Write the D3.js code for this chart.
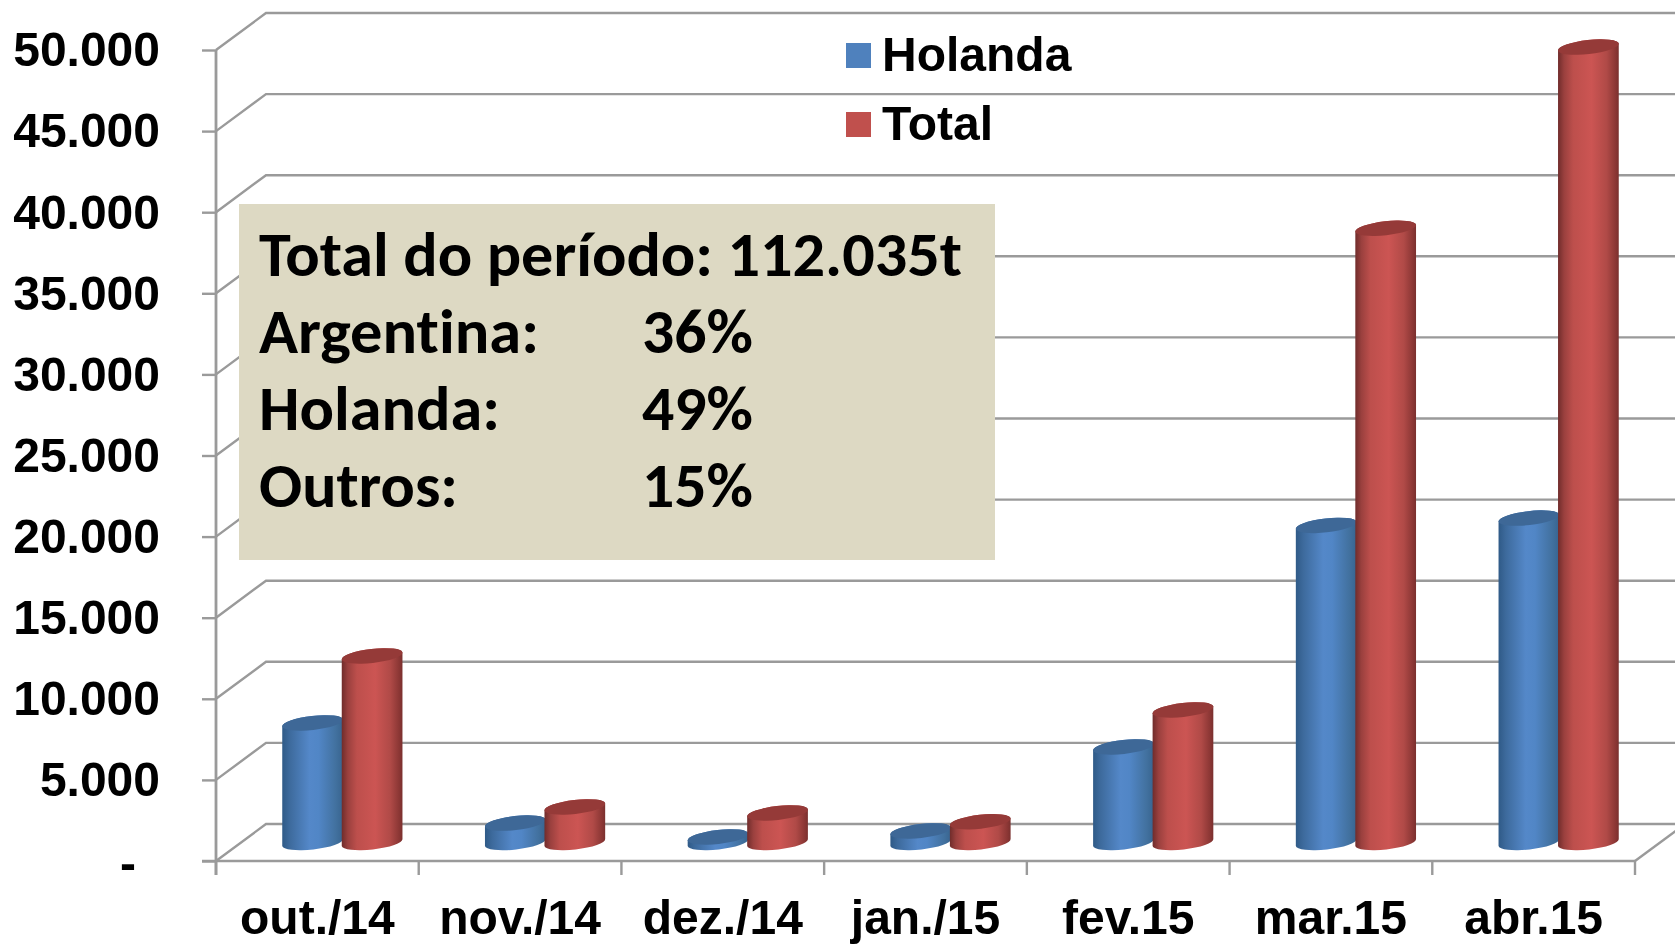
<!DOCTYPE html>
<html lang="pt">
<head>
<meta charset="utf-8">
<title>Holanda e Total</title>
<script src="https://cdn.jsdelivr.net/npm/d3@7/dist/d3.min.js"></script>
<style>
  html, body { margin: 0; padding: 0; background: #fff; overflow: hidden; }
  svg { display: block; filter: blur(0.55px); }
  .arial { font-family: "Liberation Sans", Arial, sans-serif; font-weight: 700; font-size: 48px; fill: #000; }
  .note { font-family: Carlito, Lato, sans-serif; font-weight: 700; font-size: 62px; fill: #000; font-variant-ligatures: none; }
</style>
</head>
<body>
<svg id="chart" width="1675" height="944"></svg>
<script>
// ---- data ----
const categories = ["out./14", "nov./14", "dez./14", "jan./15", "fev.15", "mar.15", "abr.15"];
const holanda = [7370, 1200, 340, 710, 5890, 19550, 20000];
const total = [11500, 2190, 1820, 1280, 8170, 37870, 49040];
const yTicks = [0, 5000, 10000, 15000, 20000, 25000, 30000, 35000, 40000, 45000, 50000];
const seriesNames = ["Holanda", "Total"];
const noteLines = ["Total do período: 112.035t", "Argentina:", "Holanda:", "Outros:"];
const notePercents = ["36%", "49%", "15%"];

// ---- layout ----
const plotL = 216, plotR = 1635, plotT = 50, plotB = 861;
const depthX = 50, depthY = -37;
const gridColor = "#9a9a9a";

const svg = d3.select("#chart");
const x = d3.scaleBand().domain(categories).range([plotL, plotR]);
const y = d3.scaleLinear().domain([0, 50000]).range([plotB, plotT]);
const sub = d3.scaleBand().domain(seriesNames).range([-59.5, 59.5]);
const fmt = d3.formatLocale({ decimal: ",", thousands: ".", grouping: [3], currency: ["", ""] }).format(",d");

// ---- gradients ----
const defs = svg.append("defs");
const palettes = {
  Holanda: { stops: [[0, "#2f5a87"], [0.12, "#3d6a9c"], [0.45, "#5488c9"], [0.6, "#5186c6"], [0.88, "#42719f"], [1, "#38648f"]], top: "#3e6897", key: "#4f81bd" },
  Total: { stops: [[0, "#702c2b"], [0.1, "#9a403e"], [0.25, "#bd4f4c"], [0.55, "#cc5553"], [0.8, "#b04a47"], [0.95, "#8a3634"], [1, "#7a302e"]], top: "#953a38", key: "#c0504d" }
};
seriesNames.forEach(s => {
  const g = defs.append("linearGradient").attr("id", "grad" + s)
    .attr("x1", 0).attr("x2", 1).attr("y1", 0).attr("y2", 0);
  palettes[s].stops.forEach(st => g.append("stop").attr("offset", st[0]).attr("stop-color", st[1]));
});

// ---- gridlines on wall and side ----
const grid = svg.append("g").attr("fill", "none").attr("stroke", gridColor).attr("stroke-width", 2.4);
grid.selectAll("path.wall").data(yTicks).join("path").attr("class", "wall")
  .attr("d", v => `M${plotL},${y(v)}L${plotL + depthX},${y(v) + depthY}L${plotR + depthX},${y(v) + depthY}`);
grid.append("path").attr("d", `M${plotR},${plotB}L${plotR + depthX},${plotB + depthY}`);

// ---- axes ----
const yAxis = svg.append("g").attr("transform", `translate(${plotL},0)`)
  .call(d3.axisLeft(y).tickValues(yTicks).tickSize(14).tickPadding(42)
    .tickFormat(v => v === 0 ? "-" : fmt(v)));
yAxis.select(".domain").remove();
yAxis.selectAll(".tick line").attr("stroke", gridColor).attr("stroke-width", 2.4);
yAxis.selectAll(".tick text").attr("class", "arial").attr("dy", "0.33em")
  .attr("dx", v => v === 0 ? -24 : 0)
  .attr("y", v => v === 0 ? 3 : 0);

const xAxis = svg.append("g").attr("transform", `translate(0,${plotB})`)
  .call(d3.axisBottom(x).tickSize(0).tickPadding(38.5));
xAxis.select(".domain").remove();
xAxis.selectAll(".tick line").remove();
xAxis.selectAll(".tick text").attr("class", "arial").attr("dy", "0.71em");
const xTicks = categories.map(c => x(c)).concat([plotR]);
svg.append("g").selectAll("line").data(xTicks).join("line")
  .attr("x1", d => d).attr("x2", d => d).attr("y1", plotB).attr("y2", plotB + 14)
  .attr("stroke", gridColor).attr("stroke-width", 2.4);
svg.append("line").attr("x1", plotL - 14).attr("x2", plotR).attr("y1", plotB).attr("y2", plotB)
  .attr("stroke", gridColor).attr("stroke-width", 2.4);
svg.append("line").attr("x1", plotL).attr("x2", plotL).attr("y1", plotT).attr("y2", plotB + 14)
  .attr("stroke", gridColor).attr("stroke-width", 2.8);

// ---- cylinders ----
const baseY = y(0) + depthY / 2;
const bw = sub.bandwidth();
const rx = bw / 2 + 0.8, ry = 7, tilt = -6.5;
const tipY = rx * Math.sin(-tilt * Math.PI / 180);
const tipX = rx * Math.cos(tilt * Math.PI / 180);
const cx = (cat, s) => x(cat) + x.bandwidth() / 2 + depthX / 2 + sub(s) + bw / 2;
const topY = v => baseY - (y(0) - y(v));

const rows = categories.flatMap((c, i) => [
  { c, s: "Holanda", v: holanda[i] },
  { c, s: "Total", v: total[i] }
]);
const bars = svg.append("g").selectAll("g").data(rows).join("g");
bars.append("path")
  .attr("fill", d => `url(#grad${d.s})`)
  .attr("d", d => {
    const X = cx(d.c, d.s), T = topY(d.v);
    return `M${X - tipX},${T + tipY}L${X - tipX},${baseY + tipY}` +
      `A${rx},${ry} ${tilt} 0 0 ${X + tipX},${baseY - tipY}` +
      `L${X + tipX},${T - tipY}` +
      `A${rx},${ry} ${tilt} 0 0 ${X - tipX},${T + tipY}Z`;
  });
bars.append("ellipse")
  .attr("rx", rx).attr("ry", ry)
  .attr("fill", d => palettes[d.s].top)
  .attr("transform", d => `translate(${cx(d.c, d.s)},${topY(d.v)}) rotate(${tilt})`);

// ---- legend ----
const legendY = d3.scalePoint().domain(seriesNames).range([55, 124]);
const legend = svg.append("g").selectAll("g").data(seriesNames).join("g")
  .attr("transform", s => `translate(846,${legendY(s)})`);
legend.append("rect").attr("x", 0).attr("y", -12).attr("width", 25).attr("height", 25)
  .attr("fill", s => palettes[s].key);
legend.append("text").attr("class", "arial").attr("x", 36).attr("y", 16).text(s => s);

// ---- note box ----
const note = svg.append("g");
note.append("rect").attr("x", 239).attr("y", 204).attr("width", 756).attr("height", 356).attr("fill", "#ddd9c3");
const noteWidths = [703, 280, 241, 199];
const lineY = d3.scalePoint().domain(d3.range(4)).range([275.5, 506.5]);
note.selectAll("text.l").data(noteLines).join("text").attr("class", "note l")
  .attr("x", 259).attr("y", (d, i) => lineY(i))
  .attr("textLength", (d, i) => noteWidths[i]).attr("lengthAdjust", "spacingAndGlyphs")
  .text(d => d);
note.selectAll("text.p").data(notePercents).join("text").attr("class", "note p")
  .attr("x", 642).attr("y", (d, i) => lineY(i + 1))
  .attr("textLength", 111).attr("lengthAdjust", "spacingAndGlyphs")
  .text(d => d);
</script>
</body>
</html>
